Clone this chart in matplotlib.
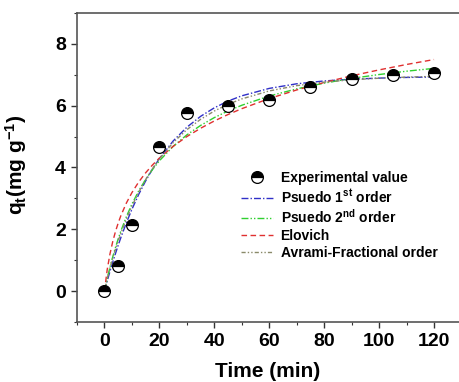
import matplotlib
matplotlib.use("Agg")
import matplotlib.pyplot as plt
from matplotlib.ticker import MultipleLocator

plt.rcParams['font.family'] = ['Liberation Sans', 'DejaVu Sans']
plt.rcParams['font.weight'] = 'bold'
plt.rcParams['mathtext.fontset'] = 'custom'
plt.rcParams['mathtext.rm'] = 'Liberation Sans:bold'
plt.rcParams['mathtext.it'] = 'Liberation Sans:bold'
plt.rcParams['mathtext.bf'] = 'Liberation Sans:bold'
plt.rcParams['mathtext.default'] = 'rm'

# Experimental data
t_exp = [0, 5, 10, 20, 30, 45, 60, 75, 90, 105, 120]
q_exp = [0.0, 0.8, 2.15, 4.65, 5.75, 6.0, 6.2, 6.6, 6.85, 7.0, 7.05]

# Fitted curves
t_fit = [0, 1, 2, 3, 4, 5, 6, 8, 10, 12.5, 15, 17.5, 20, 25, 30, 35, 40, 45, 50,
         60, 70, 80, 90, 100, 110, 120]
q_pfo = [0.0, 0.326, 0.636, 0.932, 1.214, 1.483, 1.739, 2.216, 2.649, 3.136, 3.567,
         3.950, 4.289, 4.857, 5.304, 5.655, 5.931, 6.149, 6.320, 6.560, 6.709,
         6.801, 6.858, 6.893, 6.915, 6.928]
q_pso = [0.0, 0.403, 0.769, 1.103, 1.409, 1.691, 1.950, 2.414, 2.815, 3.247, 3.616,
         3.937, 4.217, 4.683, 5.056, 5.361, 5.615, 5.830, 6.014, 6.313, 6.545,
         6.731, 6.883, 7.009, 7.117, 7.208]
q_elo = [0.0, 0.695, 1.200, 1.598, 1.925, 2.204, 2.447, 2.854, 3.188, 3.536, 3.829,
         4.083, 4.306, 4.685, 5.001, 5.270, 5.506, 5.715, 5.904, 6.231, 6.510,
         6.752, 6.967, 7.159, 7.334, 7.494]
q_avr = [0.0, 0.408, 0.752, 1.064, 1.354, 1.624, 1.877, 2.339, 2.751, 3.208, 3.610,
         3.964, 4.278, 4.806, 5.224, 5.559, 5.828, 6.045, 6.220, 6.478, 6.649,
         6.762, 6.838, 6.890, 6.925, 6.948]

labels = ['Experimental value', 'Psuedo 1$^{st}$ order', 'Psuedo 2$^{nd}$ order',
          'Elovich', 'Avrami-Fractional order']

W, H = 460, 382
fig = plt.figure(figsize=(W / 100, H / 100), dpi=100)
ax = fig.add_axes([77 / W, 1 - 322 / H, (461.5 - 77) / W, (322 - 13) / H])

ax.plot(t_fit, q_pfo, color='#3030c8', lw=1.0, linestyle=(0, (5, 1.5, 1, 1.5)), label=labels[1], zorder=2)
ax.plot(t_fit, q_pso, color='#30d030', lw=1.0, linestyle=(0, (5, 1.5, 1, 1.5, 1, 1.5)), label=labels[2], zorder=2)
ax.plot(t_fit, q_elo, color='#e03030', lw=1.0, linestyle=(0, (4, 2.5)), label=labels[3], zorder=2)
ax.plot(t_fit, q_avr, color='#8a8a6a', lw=1.0, linestyle=(0, (3, 1.5, 1, 1.5, 1, 1.5)), label=labels[4], zorder=2)
ax.plot(t_exp, q_exp, linestyle='none', marker='o', markersize=8.5, fillstyle='top',
        markerfacecolor='black', markerfacecoloralt='white', markeredgecolor='black',
        markeredgewidth=0.9, label=labels[0], zorder=3)

ax.set_xlim(-10, 130)
ax.set_ylim(-1, 9)
ax.xaxis.set_major_locator(MultipleLocator(20))
ax.xaxis.set_minor_locator(MultipleLocator(10))
ax.yaxis.set_major_locator(MultipleLocator(2))
ax.yaxis.set_minor_locator(MultipleLocator(1))
ax.tick_params(which='major', direction='out', length=4, width=1, labelsize=14, color='#333333', pad=4)
ax.tick_params(which='minor', direction='out', length=2.5, width=0.8, color='#333333')
for lab in ax.get_xticklabels() + ax.get_yticklabels():
    lab.set_fontweight('bold')
for s in ax.spines.values():
    s.set_color('#555555')
    s.set_linewidth(1.2)

ax.set_xlabel('Time (min)', fontsize=15, fontweight='bold')
ax.xaxis.set_label_coords(0.497, -0.128)
ax.set_ylabel('q$_t$(mg g$^{-1}$)', fontsize=15, fontweight='bold')
ax.yaxis.set_label_coords(-0.125, 0.508)

handles, labs = ax.get_legend_handles_labels()
order = [4, 0, 1, 2, 3]
leg = ax.legend([handles[i] for i in order], [labs[i] for i in order],
                loc='upper left', bbox_to_anchor=((241 - 77) / (461.5 - 77), 1 - (171 - 13) / (322 - 13)),
                frameon=False, handlelength=2.3, handletextpad=0.55,
                labelspacing=0.2, borderaxespad=0, borderpad=0, prop={'weight': 'bold', 'size': 10})

fig.savefig('out.png', dpi=100)
